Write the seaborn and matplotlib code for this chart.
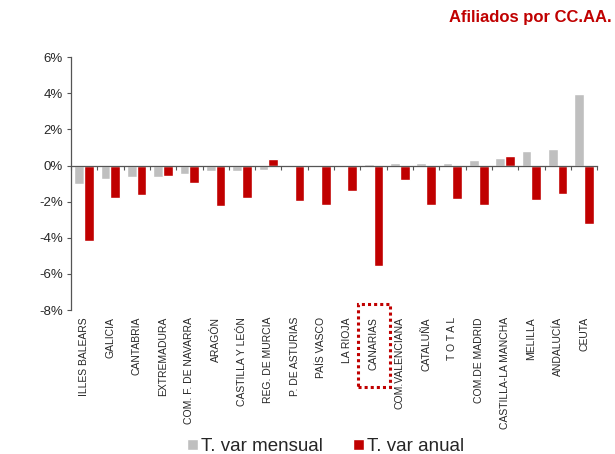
import matplotlib
matplotlib.use("Agg")
import matplotlib.pyplot as plt
import matplotlib.patches as mpatches
import matplotlib.transforms as mtransforms
import numpy as np
import pandas as pd
import seaborn as sns

regions = ["ILLES BALEARS", "GALICIA", "CANTABRIA", "EXTREMADURA",
           "COM. F. DE NAVARRA", "ARAGÓN", "CASTILLA Y LEÓN", "REG. DE MURCIA",
           "P. DE ASTURIAS", "PAÍS VASCO", "LA RIOJA", "CANARIAS",
           "COM.VALENCIANA", "CATALUÑA", "T O T A L", "COM.DE MADRID",
           "CASTILLA-LA MANCHA", "MELILLA", "ANDALUCÍA", "CEUTA"]
mensual = [-1.04, -0.75, -0.62, -0.62, -0.45, -0.30, -0.30, -0.27,
           -0.02, -0.02, -0.02, 0.08, 0.14, 0.14, 0.14, 0.29,
           0.40, 0.82, 0.92, 3.97]
anual = [-4.19, -1.79, -1.64, -0.55, -0.95, -2.23, -1.82, 0.36,
         -1.97, -2.19, -1.43, -5.55, -0.82, -2.19, -1.86, -2.17,
         0.53, -1.88, -1.60, -3.21]
series = ["T. var mensual", "T. var anual"]
yticks = [-8, -6, -4, -2, 0, 2, 4, 6]

df = pd.DataFrame({
    "region": regions * 2,
    "valor": mensual + anual,
    "serie": [series[0]] * len(regions) + [series[1]] * len(regions),
})

gray = "#BFBFBF"
red = "#C00000"
axis_col = "#555555"

sns.set_style("white")
plt.rcParams["font.family"] = ["Liberation Sans", "DejaVu Sans"]

fig = plt.figure(figsize=(6.15, 4.54), dpi=100)
ax = fig.add_axes([0.1154, 0.317, 0.8556, 0.557])

sns.barplot(data=df, x="region", y="valor", hue="serie", palette=[gray, red],
            width=0.74, saturation=1, ax=ax, errorbar=None)

ax.set_ylim(-8, 6)
ax.set_xlim(-0.5, len(regions) - 0.5)
ax.set_yticks(yticks)
ax.set_yticklabels([f"{v}%" for v in yticks], fontsize=9.5)
ax.tick_params(axis="y", left=True, direction="out", length=3, width=0.8,
               color=axis_col, pad=3)
ax.set_xlabel("")
ax.set_ylabel("")

for s in ["top", "right"]:
    ax.spines[s].set_visible(False)
ax.spines["left"].set_color(axis_col)
ax.spines["left"].set_linewidth(0.9)

# zero line with separators between categories
ax.spines["bottom"].set_position(("data", 0))
ax.spines["bottom"].set_color(axis_col)
ax.spines["bottom"].set_linewidth(0.9)
ax.set_xticks(np.arange(len(regions) + 1) - 0.5, minor=True)
ax.tick_params(axis="x", which="minor", bottom=True, direction="out", length=3,
               width=0.8, color=axis_col)
ax.tick_params(axis="x", which="major", length=0, labelbottom=False)

# category labels along the bottom edge
lab = ax.secondary_xaxis("bottom")
lab.set_xticks(range(len(regions)), labels=regions, rotation=90, fontsize=7.5,
               va="top")
lab.tick_params(length=0, pad=5)
lab.spines["bottom"].set_visible(False)

# dotted box around CANARIAS label
idx = regions.index("CANARIAS")
trans = mtransforms.blended_transform_factory(ax.transData, ax.transAxes)
box = mpatches.Rectangle((idx - 0.6, -0.304), 1.22, 0.33, transform=trans,
                         fill=False, edgecolor=red, linestyle=(0, (1, 1)),
                         linewidth=2.2, clip_on=False)
ax.add_patch(box)

sns.move_legend(ax, "lower center", bbox_to_anchor=(0.53, -0.04),
                bbox_transform=fig.transFigure, ncol=2, frameon=False,
                title=None, fontsize=13.5, handlelength=0.55, handleheight=0.55,
                handletextpad=0.2, columnspacing=1.6)

fig.text(0.995, 0.962, "Afiliados por CC.AA.", ha="right", va="center",
         fontsize=12, fontweight="bold", color=red)

fig.savefig("out.png", dpi=100)
